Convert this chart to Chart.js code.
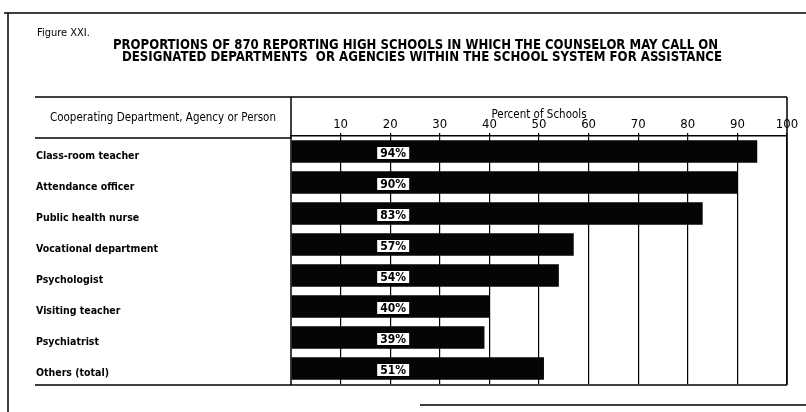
<!DOCTYPE html>
<html>
<head>
    <meta charset="utf-8">
    <title>Figure XXI</title>
    <style>
        html, body { margin: 0; padding: 0; background: #fff; }
        #wrap { width: 806px; height: 412px; position: relative; }
    </style>
</head>
<body>
    <div id="wrap">
        <canvas id="myChart" width="806" height="412"></canvas>
    </div>
    <script src="https://cdn.jsdelivr.net/npm/chart.js"></script>
    <script>
        const categories = [
            'Class-room teacher',
            'Attendance officer',
            'Public health nurse',
            'Vocational department',
            'Psychologist',
            'Visiting teacher',
            'Psychiatrist',
            'Others (total)'
        ];
        const percentValues = [94, 90, 83, 57, 54, 40, 39, 51];
        const percentLabels = ['94%', '90%', '83%', '57%', '54%', '40%', '39%', '51%'];
        const tickValues = [10, 20, 30, 40, 50, 60, 70, 80, 90, 100];

        const titleLines = [
            'PROPORTIONS OF 870 REPORTING HIGH SCHOOLS IN WHICH THE COUNSELOR MAY CALL ON',
            'DESIGNATED DEPARTMENTS  OR AGENCIES WITHIN THE SCHOOL SYSTEM FOR ASSISTANCE'
        ];

        const FONT = '"DejaVu Sans Condensed", "Liberation Sans", sans-serif';

        // frame lines, header text and title
        const framePlugin = {
            id: 'frame',
            beforeDraw: (chart) => {
                const ctx = chart.ctx;
                const area = chart.chartArea;
                ctx.save();
                ctx.fillStyle = '#fff';
                ctx.fillRect(0, 0, chart.width, chart.height);
                ctx.strokeStyle = '#000';
                ctx.lineWidth = 1.5;
                ctx.beginPath();
                // outer frame
                ctx.moveTo(4, 13); ctx.lineTo(806, 13);
                ctx.moveTo(8, 13); ctx.lineTo(8, 412);
                ctx.moveTo(420, 405); ctx.lineTo(806, 405);
                // table box
                ctx.moveTo(35, 97); ctx.lineTo(area.right, 97);
                ctx.moveTo(area.right, 97); ctx.lineTo(area.right, area.bottom + 1);
                ctx.moveTo(35, 138); ctx.lineTo(area.left, 138);
                ctx.moveTo(area.left, 97); ctx.lineTo(area.left, area.bottom + 1);
                ctx.moveTo(35, area.bottom + 1); ctx.lineTo(area.right, area.bottom + 1);
                ctx.stroke();

                ctx.fillStyle = '#000';
                ctx.textBaseline = 'middle';
                ctx.textAlign = 'left';
                ctx.font = '11px ' + FONT;
                ctx.fillText('Figure XXI.', 37, 33, 56);
                ctx.font = '11.5px ' + FONT;
                ctx.fillText('Cooperating Department, Agency or Person', 50, 118, 226);
                ctx.font = 'bold 13.5px ' + FONT;
                ctx.fillText(titleLines[0], 113, 45, 605);
                ctx.fillText(titleLines[1], 122, 57, 600);
                ctx.restore();
            }
        };

        // white boxed value labels inside the bars
        const valueLabelPlugin = {
            id: 'valueLabels',
            afterDatasetsDraw: (chart) => {
                const ctx = chart.ctx;
                const xScale = chart.scales.x;
                const meta = chart.getDatasetMeta(0);
                const cx = xScale.getPixelForValue(20.6);
                ctx.save();
                ctx.font = 'bold 12px ' + FONT;
                ctx.textAlign = 'center';
                ctx.textBaseline = 'middle';
                meta.data.forEach((bar, i) => {
                    const y = bar.y + 2;
                    ctx.fillStyle = '#fff';
                    ctx.fillRect(cx - 16, y - 6.5, 32, 12);
                    ctx.fillStyle = '#000';
                    ctx.fillText(percentLabels[i], cx, y + 0.5, 29);
                });
                ctx.restore();
            }
        };

        const data = {
            labels: categories,
            datasets: [{
                label: 'Percent of Schools',
                data: percentValues,
                backgroundColor: '#050505',
                borderWidth: 0,
                categoryPercentage: 1,
                barPercentage: 0.72
            }]
        };

        const config = {
            type: 'bar',
            data: data,
            options: {
                indexAxis: 'y',
                responsive: false,
                animation: false,
                layout: { padding: { left: 36, right: 19, top: 100, bottom: 28 } },
                plugins: {
                    legend: { display: false },
                    tooltip: { enabled: false }
                },
                scales: {
                    x: {
                        position: 'top',
                        min: 0,
                        max: 100,
                        afterBuildTicks: (axis) => {
                            axis.ticks = [{ value: 0 }].concat(tickValues.map(v => ({ value: v })));
                        },
                        afterFit: (axis) => { axis.height = 36; },
                        ticks: {
                            color: '#000',
                            padding: 1,
                            font: { family: FONT, size: 13 },
                            callback: (v) => v === 0 ? '' : String(v)
                        },
                        grid: {
                            color: (c) => c.tick && c.tick.value === 0 ? 'rgba(0,0,0,0)' : '#000',
                            lineWidth: 1.2,
                            tickLength: 3
                        },
                        border: { color: '#000', width: 1.5 },
                        title: {
                            display: true,
                            text: 'Percent of Schools',
                            color: '#000',
                            font: { family: FONT, size: 11.5 },
                            padding: { top: 8, bottom: -3 }
                        }
                    },
                    y: {
                        afterFit: (axis) => { axis.width = 255; },
                        grid: { display: false },
                        border: { display: false },
                        ticks: {
                            crossAlign: 'far',
                            labelOffset: 5,
                            color: '#000',
                            font: { family: FONT, size: 10.5, weight: 'bold' }
                        }
                    }
                }
            },
            plugins: [framePlugin, valueLabelPlugin]
        };

        const myChart = new Chart(document.getElementById('myChart'), config);
    </script>
</body>
</html>
